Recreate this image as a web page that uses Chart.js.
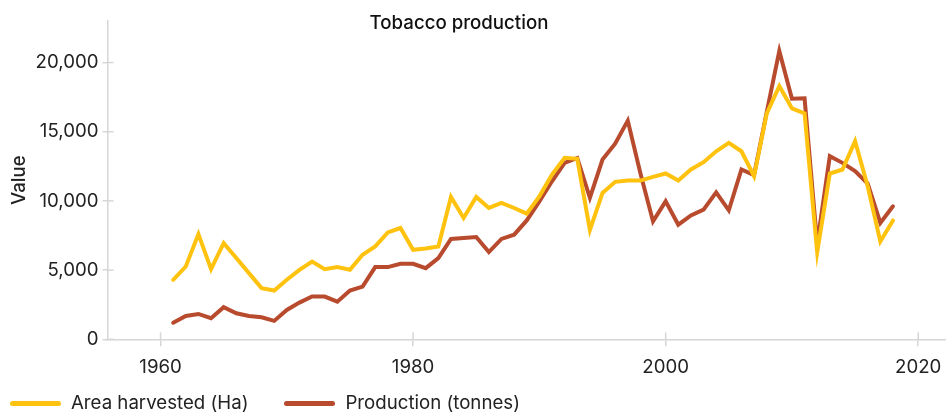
<!DOCTYPE html>
<html>
<head>
<meta charset="utf-8">
<script src="https://cdn.jsdelivr.net/npm/chart.js@4"></script>
<style>
  html, body { margin: 0; padding: 0; background: #fff; }
  body { width: 946px; height: 412px; position: relative; overflow: hidden; font-family: Inter, sans-serif; }
  #wrap { position: absolute; left: 0; top: 0; width: 946px; height: 392px; }
  #legend { position: absolute; left: 10px; top: 392px; display: flex; align-items: center; font-size: 18.67px; color: #222; line-height: 22px; }
  .item { display: flex; align-items: center; margin-right: 36px; }
  .swatch { width: 51px; height: 5px; border-radius: 3px; margin-right: 10px; }
</style>
</head>
<body>
<div id="wrap"><canvas id="chart"></canvas></div>
<div id="legend"></div>
<script>
const years = [];
for (let y = 1961; y <= 2018; y++) years.push(y);

const areaHarvested = [
  4300, 5260, 7600, 5070, 6950, 5870, 4780, 3700, 3520, 4300,
  5020, 5620, 5070, 5220, 5020, 6110, 6710, 7720, 8040, 6470,
  6560, 6710, 10290, 8770, 10290, 9490, 9860, 9490, 9080, 10330,
  11900, 13120, 13040, 7900, 10580, 11380, 11470, 11470, 11740, 11980,
  11470, 12270, 12800, 13590, 14200, 13590, 11780, 16300, 18300, 16690,
  16330, 6300, 11980, 12270, 14320, 11060, 7070, 8590
];
const production = [
  1200, 1690, 1830, 1520, 2320, 1880, 1690, 1590, 1330, 2120,
  2650, 3090, 3090, 2720, 3520, 3810, 5220, 5220, 5460, 5460,
  5140, 5870, 7250, 7320, 7390, 6300, 7250, 7560, 8590, 9970,
  11420, 12750, 13100, 10220, 12990, 14130, 15800, 12000, 8520, 9970,
  8280, 8950, 9370, 10620, 9320, 12270, 11860, 16400, 20840, 17390,
  17420, 6900, 13230, 12750, 12150, 11250, 8410, 9610
];

const xTicks = [1960, 1980, 2000, 2020];
const yTicks = [0, 5000, 10000, 15000, 20000];

const seriesNames = ["Area harvested (Ha)", "Production (tonnes)"];
const seriesColors = ["#FFC20E", "#B84A2E"];
const axisColor = "#d6d6d6";
const fontSize = 18.67;

Chart.defaults.font.family = "Inter, sans-serif";
Chart.defaults.color = "#222";

// short tick marks that also reach into the plot area
const innerTicks = {
  id: "innerTicks",
  afterDraw(chart) {
    const ctx = chart.ctx;
    const xs = chart.scales.x, ys = chart.scales.y;
    ctx.save();
    ctx.strokeStyle = axisColor;
    ctx.lineWidth = 1.5;
    xTicks.forEach(v => {
      const px = xs.getPixelForValue(v);
      ctx.beginPath();
      ctx.moveTo(px, ys.bottom);
      ctx.lineTo(px, ys.bottom - 7);
      ctx.stroke();
    });
    yTicks.forEach(v => {
      const py = ys.getPixelForValue(v);
      ctx.beginPath();
      ctx.moveTo(xs.left, py);
      ctx.lineTo(xs.left + 6, py);
      ctx.stroke();
    });
    ctx.restore();
  }
};

const titleText = {
  id: "titleText",
  afterDraw(chart) {
    const ctx = chart.ctx;
    ctx.save();
    ctx.font = "500 " + fontSize + "px Inter, sans-serif";
    ctx.fillStyle = "#111";
    ctx.textAlign = "center";
    ctx.textBaseline = "middle";
    ctx.fillText("Tobacco production", 459, 23);
    ctx.restore();
  }
};

const datasets = [areaHarvested, production].map((vals, i) => ({
  label: seriesNames[i],
  data: vals.map((v, j) => ({ x: years[j], y: v })),
  borderColor: seriesColors[i],
  backgroundColor: seriesColors[i],
  borderWidth: 4,
  pointRadius: 0,
  tension: 0,
  borderJoinStyle: "miter",
  borderCapStyle: "round"
}));

new Chart(document.getElementById("chart"), {
  type: "line",
  data: { datasets },
  options: {
    responsive: true,
    maintainAspectRatio: false,
    animation: false,
    layout: { padding: { top: 21, left: 0, right: 0, bottom: 0 } },
    plugins: {
      legend: { display: false },
      title: { display: false },
      tooltip: { enabled: false }
    },
    scales: {
      x: {
        type: "linear",
        min: 1955.8,
        max: 2022.2,
        afterBuildTicks: s => { s.ticks = xTicks.map(v => ({ value: v })); },
        afterFit: s => { s.height = 52.7; s.paddingLeft = 0; s.paddingRight = 0; },
        grid: { drawOnChartArea: false, tickLength: 7, color: axisColor, lineWidth: 1.5 },
        border: { color: axisColor, width: 1.5 },
        ticks: { font: { size: fontSize }, padding: 10, callback: v => String(v) }
      },
      y: {
        min: 0,
        max: 23000,
        afterBuildTicks: s => { s.ticks = yTicks.map(v => ({ value: v })); },
        afterFit: s => { s.width = 107.5; },
        grid: { drawOnChartArea: false, tickLength: 5, color: axisColor, lineWidth: 1.5 },
        border: { color: axisColor, width: 1.5 },
        ticks: { font: { size: fontSize }, padding: 4, callback: v => v.toLocaleString("en-US") },
        title: { display: true, text: "Value", font: { size: fontSize, weight: 500 }, padding: { top: 8, bottom: 0 } }
      }
    }
  },
  plugins: [innerTicks, titleText]
});

// legend below the chart
const legend = document.getElementById("legend");
seriesNames.forEach((name, i) => {
  const item = document.createElement("div");
  item.className = "item";
  item.innerHTML = `<span class="swatch" style="background:${seriesColors[i]}"></span><span>${name}</span>`;
  legend.appendChild(item);
});
</script>
</body>
</html>
